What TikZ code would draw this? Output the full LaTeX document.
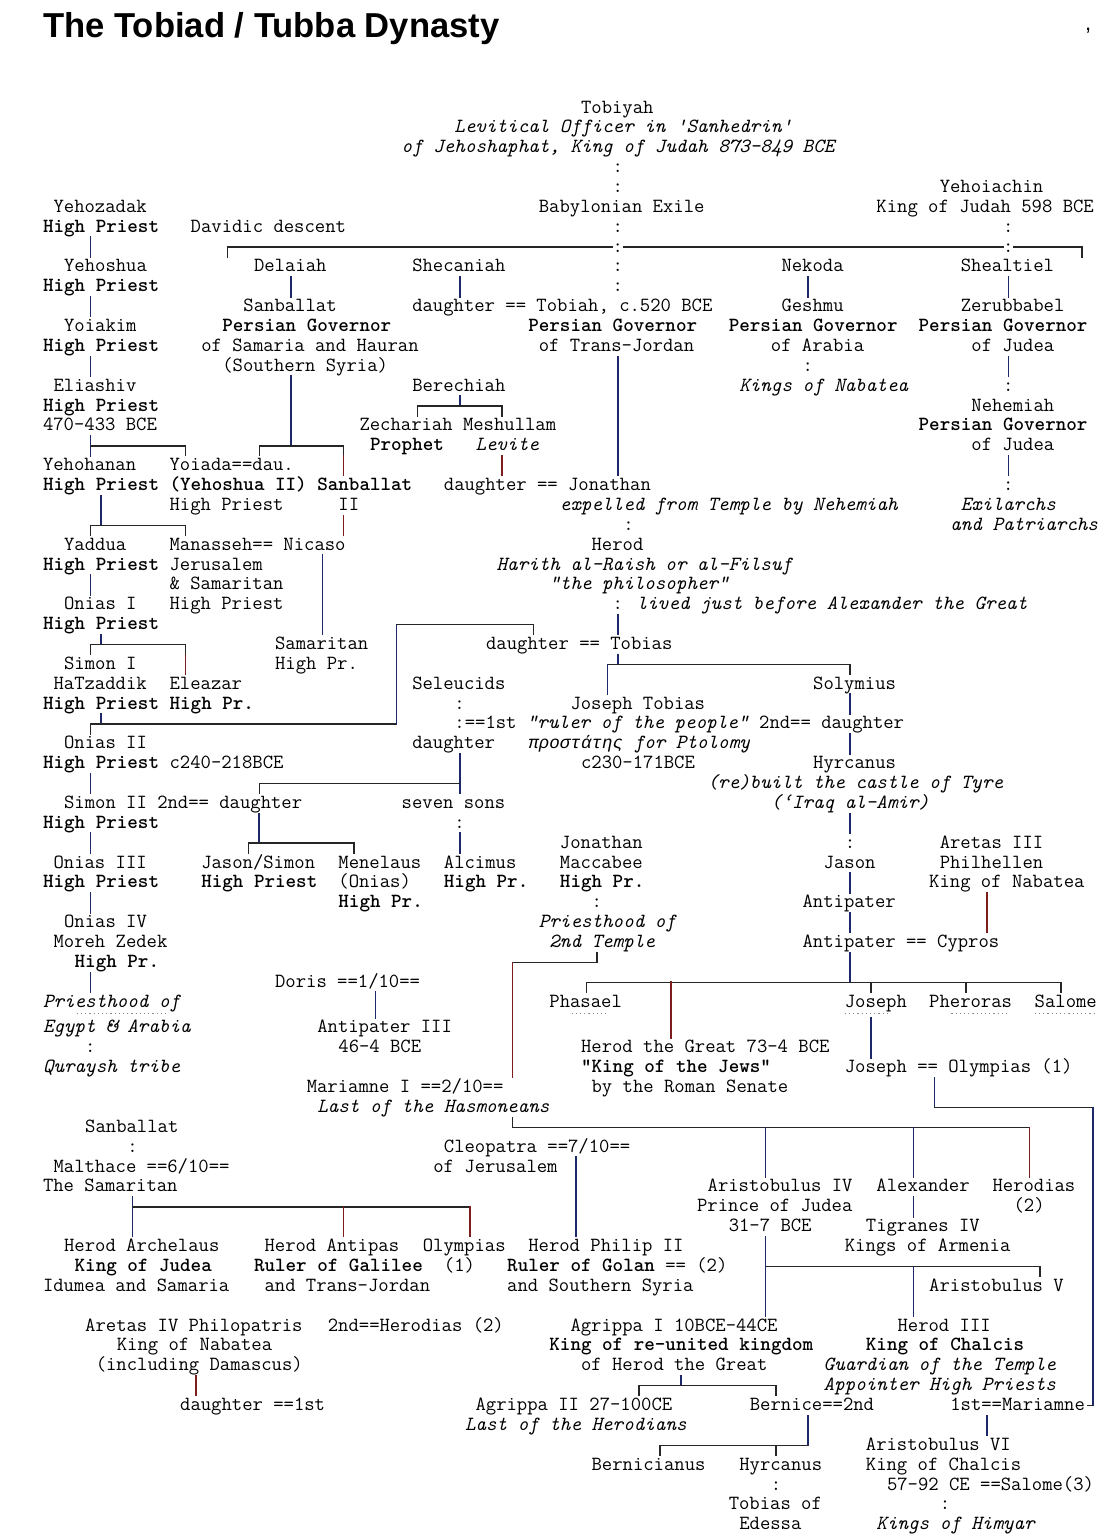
\documentclass[tikz,border=0pt]{standalone}
\usepackage{fontspec}
\newfontfamily\titlefont{Liberation Sans}
\newfontfamily\greekmono{Liberation Mono}
\newcommand\monofnt{\fontsize{20.1}{24}\selectfont\ttfamily}
\newcommand\greek[1]{{\greekmono\fontsize{17.58}{21}\selectfont #1}}
\newcounter{tn}
\newcommand\Tx[4][]{\stepcounter{tn}\node[tx,#1] (t\arabic{tn}) at (#2,#3) {#4};}
\definecolor{navyl}{RGB}{28,40,105}
\definecolor{redl}{RGB}{125,30,30}
\tikzset{
 tx/.style={anchor=base west, inner sep=0pt, outer sep=0pt, font=\monofnt, text=black, yshift=-5pt},
 bf/.style={font=\monofnt\bfseries},
 it/.style={font=\monofnt\itshape},
 hl/.style={draw=black!85, line width=1.5pt, line cap=rect},
 vb/.style={draw=navyl, line width=1.6pt, line cap=rect},
 vr/.style={draw=redl, line width=1.6pt, line cap=rect},
 dotm/.style={draw=black!45, line width=0.7pt, dash pattern=on 1.2pt off 3pt},
}
\begin{document}
\begin{tikzpicture}
\useasboundingbox (0,0) rectangle (1118pt,-1539pt);
\fill[white] (0,0) rectangle (1118pt,-1539pt);
\node[anchor=base west, inner sep=0pt, font=\titlefont\bfseries\fontsize{34.6}{40}\selectfont] (title) at (43pt,-37pt) {The Tobiad / Tubba Dynasty};
\node[anchor=base west, inner sep=0pt, font=\titlefont\fontsize{22}{26}\selectfont] (mark) at (1085pt,-30pt) {,};
\begin{scope}[shift={(43pt,-108pt)}, x=10.55pt, y=-19.87pt]
% ---------- texts ----------
\Tx{51}{0}{Tobiyah}
\Tx[it]{39}{1}{Levitical Officer in 'Sanhedrin'}
\Tx[it]{34}{2}{of Jehoshaphat, King of Judah 873-849 BCE}
\Tx{54}{3}{:}
\Tx{54}{4}{:} \Tx{85}{4}{Yehoiachin}
\Tx{1}{5}{Yehozadak} \Tx{47}{5}{Babylonian Exile} \Tx{79}{5}{King of Judah 598 BCE}
\Tx[bf]{0}{6}{High Priest} \Tx{14}{6}{Davidic descent} \Tx{54}{6}{:} \Tx{91}{6}{:}
\Tx{54}{7}{:} \Tx{91}{7}{:}
\Tx{2}{8}{Yehoshua} \Tx{20}{8}{Delaiah} \Tx{35}{8}{Shecaniah} \Tx{54}{8}{:} \Tx{70}{8}{Nekoda} \Tx{87}{8}{Shealtiel}
\Tx[bf]{0}{9}{High Priest} \Tx{54}{9}{:}
\Tx{19}{10}{Sanballat} \Tx{35}{10}{daughter == Tobiah, c.520 BCE} \Tx{70}{10}{Geshmu} \Tx{87}{10}{Zerubbabel}
\Tx{2}{11}{Yoiakim} \Tx[bf]{17}{11}{Persian Governor} \Tx[bf]{46}{11}{Persian Governor} \Tx[bf]{65}{11}{Persian Governor} \Tx[bf]{83}{11}{Persian Governor}
\Tx[bf]{0}{12}{High Priest} \Tx{15}{12}{of Samaria and Hauran} \Tx{47}{12}{of Trans-Jordan} \Tx{69}{12}{of Arabia} \Tx{88}{12}{of Judea}
\Tx{17}{13}{(Southern Syria)} \Tx{72}{13}{:}
\Tx{1}{14}{Eliashiv} \Tx{35}{14}{Berechiah} \Tx[it]{66}{14}{Kings of Nabatea} \Tx{91}{14}{:}
\Tx[bf]{0}{15}{High Priest} \Tx{88}{15}{Nehemiah}
\Tx{0}{16}{470-433 BCE} \Tx{30}{16}{Zechariah Meshullam} \Tx[bf]{83}{16}{Persian Governor}
\Tx[bf]{31}{17}{Prophet} \Tx[it]{41}{17}{Levite} \Tx{88}{17}{of Judea}
\Tx{0}{18}{Yehohanan} \Tx{12}{18}{Yoiada==dau.}
\Tx[bf]{0}{19}{High Priest} \Tx[bf]{12}{19}{(Yehoshua II)} \Tx[bf]{26}{19}{Sanballat} \Tx{38}{19}{daughter == Jonathan} \Tx{91}{19}{:}
\Tx{12}{20}{High Priest} \Tx{28}{20}{II} \Tx[it]{49}{20}{expelled from Temple by Nehemiah} \Tx[it]{87}{20}{Exilarchs}
\Tx{55}{21}{:} \Tx[it]{86}{21}{and Patriarchs}
\Tx{2}{22}{Yaddua} \Tx{12}{22}{Manasseh== Nicaso} \Tx{52}{22}{Herod}
\Tx[bf]{0}{23}{High Priest} \Tx{12}{23}{Jerusalem} \Tx[it]{43}{23}{Harith al-Raish or al-Filsuf}
\Tx{12}{24}{\& Samaritan} \Tx[it]{48}{24}{"the philosopher"}
\Tx{2}{25}{Onias I} \Tx{12}{25}{High Priest} \Tx{54}{25}{: \textit{lived just before Alexander the Great}}
\Tx[bf]{0}{26}{High Priest}
\Tx{22}{27}{Samaritan} \Tx{42}{27}{daughter == Tobias}
\Tx{2}{28}{Simon I} \Tx{22}{28}{High Pr.}
\Tx{1}{29}{HaTzaddik} \Tx{12}{29}{Eleazar} \Tx{35}{29}{Seleucids} \Tx{73}{29}{Solymius}
\Tx[bf]{0}{30}{High Priest High Pr.} \Tx{39}{30}{:} \Tx{50}{30}{Joseph Tobias}
\Tx{39}{31}{:==1st \textit{"ruler of the people"} 2nd== daughter}
\Tx{2}{32}{Onias II} \Tx{35}{32}{daughter} \Tx[it]{46}{32}{\greek{προστάτης} for Ptolomy}
\Tx[bf]{0}{33}{High Priest} \Tx{12}{33}{c240-218BCE} \Tx{51}{33}{c230-171BCE} \Tx{73}{33}{Hyrcanus}
\Tx[it]{63}{34}{(re)built the castle of Tyre}
\Tx{2}{35}{Simon II 2nd== daughter} \Tx{34}{35}{seven sons} \Tx[it]{69}{35}{(‘Iraq al-Amir)}
\Tx[bf]{0}{36}{High Priest} \Tx{39}{36}{:}
\Tx{49}{37}{Jonathan} \Tx{76}{37}{:} \Tx{85}{37}{Aretas III}
\Tx{1}{38}{Onias III} \Tx{15}{38}{Jason/Simon} \Tx{28}{38}{Menelaus} \Tx{38}{38}{Alcimus} \Tx{49}{38}{Maccabee} \Tx{74}{38}{Jason} \Tx{85}{38}{Philhellen}
\Tx[bf]{0}{39}{High Priest} \Tx[bf]{15}{39}{High Priest} \Tx{28}{39}{(Onias)} \Tx[bf]{38}{39}{High Pr.} \Tx[bf]{49}{39}{High Pr.} \Tx{84}{39}{King of Nabatea}
\Tx[bf]{28}{40}{High Pr.} \Tx{52}{40}{:} \Tx{72}{40}{Antipater}
\Tx{2}{41}{Onias IV} \Tx[it]{47}{41}{Priesthood of}
\Tx{1}{42}{Moreh Zedek} \Tx[it]{48}{42}{2nd Temple} \Tx{72}{42}{Antipater == Cypros}
\Tx[bf]{3}{43}{High Pr.}
\Tx{22}{44}{Doris ==1/10==}
\Tx[it]{0}{45}{Priesthood of} \Tx{48}{45}{Phasael} \Tx{76}{45}{Joseph} \Tx{84}{45}{Pheroras} \Tx{94}{45}{Salome}
\Tx[it]{0}{46.3}{Egypt \& Arabia} \Tx{26}{46.3}{Antipater III}
\Tx{4}{47.3}{:} \Tx{28}{47.3}{46-4 BCE} \Tx{51}{47.3}{Herod the Great 73-4 BCE}
\Tx[it]{0}{48.3}{Quraysh tribe} \Tx[bf]{51}{48.3}{"King of the Jews"} \Tx{76}{48.3}{Joseph == Olympias (1)}
\Tx{25}{49.3}{Mariamne I ==2/10==} \Tx{52}{49.3}{by the Roman Senate}
\Tx[it]{26}{50.3}{Last of the Hasmoneans}
\Tx{4}{51.3}{Sanballat}
\Tx{8}{52.3}{:} \Tx{38}{52.3}{Cleopatra ==7/10==}
\Tx{1}{53.3}{Malthace ==6/10==} \Tx{37}{53.3}{of Jerusalem}
\Tx{0}{54.3}{The Samaritan} \Tx{63}{54.3}{Aristobulus IV} \Tx{79}{54.3}{Alexander} \Tx{90}{54.3}{Herodias}
\Tx{62}{55.3}{Prince of Judea} \Tx{92}{55.3}{(2)}
\Tx{65}{56.3}{31-7 BCE} \Tx{78}{56.3}{Tigranes IV}
\Tx{2}{57.3}{Herod Archelaus} \Tx{21}{57.3}{Herod Antipas} \Tx{36}{57.3}{Olympias} \Tx{46}{57.3}{Herod Philip II} \Tx{76}{57.3}{Kings of Armenia}
\Tx[bf]{3}{58.3}{King of Judea} \Tx[bf]{20}{58.3}{Ruler of Galilee} \Tx{38}{58.3}{(1)} \Tx{44}{58.3}{\textbf{Ruler of Golan} == (2)}
\Tx{0}{59.3}{Idumea and Samaria} \Tx{21}{59.3}{and Trans-Jordan} \Tx{44}{59.3}{and Southern Syria} \Tx{84}{59.3}{Aristobulus V}
\Tx{4}{61.3}{Aretas IV Philopatris} \Tx{27}{61.3}{2nd==Herodias (2)} \Tx{50}{61.3}{Agrippa I 10BCE-44CE} \Tx{81}{61.3}{Herod III}
\Tx{7}{62.3}{King of Nabatea} \Tx[bf]{48}{62.3}{King of re-united kingdom} \Tx[bf]{78}{62.3}{King of Chalcis}
\Tx{5}{63.3}{(including Damascus)} \Tx{51}{63.3}{of Herod the Great} \Tx[it]{74}{63.3}{Guardian of the Temple}
\Tx[it]{74}{64.3}{Appointer High Priests}
\Tx{13}{65.3}{daughter ==1st} \Tx{41}{65.3}{Agrippa II 27-100CE} \Tx{67}{65.3}{Bernice==2nd} \Tx{86}{65.3}{1st==Mariamne}
\Tx[it]{40}{66.3}{Last of the Herodians}
\Tx{78}{67.3}{Aristobulus VI}
\Tx{52}{68.3}{Bernicianus} \Tx{66}{68.3}{Hyrcanus} \Tx{78}{68.3}{King of Chalcis}
\Tx{69}{69.3}{:} \Tx{80}{69.3}{57-92 CE ==Salome(3)}
\Tx{65}{70.3}{Tobias of} \Tx{85}{70.3}{:}
\Tx{66}{71.3}{Edessa} \Tx[it]{79}{71.3}{Kings of Himyar}
% ---------- connectors ----------
\draw[hl] (17.5,7.5) -- (17.5,7) -- (54,7);
\draw[hl] (55,7) -- (91,7);
\draw[hl] (92,7) -- (98.5,7) -- (98.5,7.5);
\draw[vb] (4.5,6.5) -- (4.5,7.5);
\draw[vb] (4.5,9.5) -- (4.5,10.5);
\draw[vb] (4.5,12.5) -- (4.5,13.5);
\draw[vb] (4.5,16.5) -- (4.5,17.5);
\draw[hl] (4.5,17) -- (13.5,17) -- (13.5,17.5);
\draw[vb] (5.5,19.5) -- (5.5,21);
\draw[hl] (4.5,21.5) -- (4.5,21) -- (13.5,21) -- (13.5,21.5);
\draw[vb] (4.5,23.5) -- (4.5,24.5);
\draw[vb] (5.5,26.5) -- (5.5,27);
\draw[hl] (4.5,27.5) -- (4.5,27) -- (13.5,27) -- (13.5,27.5);
\draw[vr] (13.5,27.5) -- (13.5,28.5);
\draw[vb] (5.5,30.5) -- (5.5,31);
\draw[hl] (4.5,31.5) -- (4.5,31) -- (33.5,31);
\draw[vb] (33.5,26) -- (33.5,31);
\draw[hl] (33.5,26) -- (46.5,26) -- (46.5,26.5);
\draw[vb] (4.5,33.5) -- (4.5,34.5);
\draw[vb] (4.5,36.5) -- (4.5,37.5);
\draw[vb] (4.5,39.5) -- (4.5,40.5);
\draw[vb] (4.5,43.5) -- (4.5,44.5);
\draw[vb] (23.5,8.5) -- (23.5,9.5);
\draw[vb] (39.5,8.5) -- (39.5,9.5);
\draw[vb] (72.5,8.5) -- (72.5,9.5);
\draw[vb] (91.5,8.5) -- (91.5,9.5);
\draw[vb] (91.5,12.5) -- (91.5,13.5);
\draw[vb] (91.5,17.5) -- (91.5,18.5);
\draw[vb] (54.5,12.5) -- (54.5,18.5);
\draw[vb] (54.5,25.5) -- (54.5,26.5);
\draw[vb] (23.5,13.5) -- (23.5,17);
\draw[hl] (20.5,17.5) -- (20.5,17) -- (28.5,17) -- (28.5,17.5);
\draw[vr] (28.5,17.5) -- (28.5,18.5);
\draw[vr] (28.5,20.5) -- (28.5,21.5);
\draw[vb] (26.5,22.5) -- (26.5,26.5);
\draw[vb] (39.5,14.5) -- (39.5,15);
\draw[hl] (35.5,15.5) -- (35.5,15) -- (43.5,15) -- (43.5,15.5);
\draw[vr] (43.5,17.5) -- (43.5,18.5);
\draw[vb] (54.5,27.5) -- (54.5,28);
\draw[hl] (53.5,28) -- (76.5,28) -- (76.5,28.5);
\draw[vb] (53.5,28) -- (53.5,29.5);
\draw[vb] (76.5,29.5) -- (76.5,30.5);
\draw[vb] (76.5,31.5) -- (76.5,32.5);
\draw[vb] (76.5,35.5) -- (76.5,36.5);
\draw[vb] (76.5,38.5) -- (76.5,39.5);
\draw[vb] (76.5,40.5) -- (76.5,41.5);
\draw[vb] (76.5,42.5) -- (76.5,44);
\draw[vb] (39.5,32.5) -- (39.5,34.5);
\draw[hl] (20.5,34.5) -- (20.5,34) -- (39.5,34);
\draw[vb] (39.5,36.5) -- (39.5,37.5);
\draw[vb] (20.5,35.5) -- (20.5,37);
\draw[hl] (19.5,37.5) -- (19.5,37) -- (29.5,37) -- (29.5,37.5);
\draw[hl] (52.5,42.5) -- (52.5,43) -- (44.5,43);
\draw[vr] (44.5,43) -- (44.5,48.8);
\draw[vr] (89.5,39.5) -- (89.5,41.5);
\draw[hl] (51.5,44.5) -- (51.5,44) -- (96.5,44) -- (96.5,44.5);
\draw[hl] (78.5,44) -- (78.5,44.5);
\draw[hl] (87.5,44) -- (87.5,44.5);
\draw[vr] (59.5,44) -- (59.5,46.8);
\draw[vb] (78.5,45.8) -- (78.5,47.8);
\draw[vb] (31.5,44.5) -- (31.5,45.8);
\draw[vb] (84.5,48.8) -- (84.5,50.3);
\draw[hl] (84.5,50.3) -- (99.5,50.3);
\draw[vb] (99.5,50.3) -- (99.5,65.3);
\draw[hl] (99.5,65.3) -- (99,65.3);
\draw[hl] (44.5,50.8) -- (44.5,51.3) -- (93.5,51.3);
\draw[vb] (68.5,51.3) -- (68.5,53.8);
\draw[vb] (82.5,51.3) -- (82.5,53.8);
\draw[vr] (93.5,51.3) -- (93.5,53.8);
\draw[vb] (50.5,52.8) -- (50.5,56.8);
\draw[vb] (82.5,54.8) -- (82.5,55.8);
\draw[vb] (68.5,56.8) -- (68.5,60.8);
\draw[hl] (68.5,58.3) -- (94.5,58.3) -- (94.5,58.8);
\draw[vb] (82.5,58.3) -- (82.5,60.8);
\draw[vb] (8.5,54.8) -- (8.5,56.8);
\draw[hl] (8.5,55.3) -- (40.5,55.3);
\draw[vr] (28.5,55.3) -- (28.5,56.8);
\draw[vr] (40.5,55.3) -- (40.5,56.8);
\draw[vr] (14.5,63.8) -- (14.5,64.8);
\draw[vb] (60.5,63.8) -- (60.5,64.3);
\draw[hl] (56.5,64.8) -- (56.5,64.3) -- (69.5,64.3) -- (69.5,64.8);
\draw[vb] (72.5,65.8) -- (72.5,67.3);
\draw[hl] (58.5,67.8) -- (58.5,67.3) -- (72.5,67.3);
\draw[hl] (69.5,67.3) -- (69.5,67.8);
\draw[vb] (89.5,65.8) -- (89.5,66.8);
% faint dotted marks
\draw[dotm] (3.2,45.55) -- (11.6,45.55);
\draw[dotm] (50.1,45.55) -- (53.5,45.55);
\draw[dotm] (76,45.55) -- (80.3,45.55);
\draw[dotm] (86.1,45.55) -- (91.5,45.55);
\draw[dotm] (94,45.55) -- (99.6,45.55);
\end{scope}
\end{tikzpicture}
\end{document}
